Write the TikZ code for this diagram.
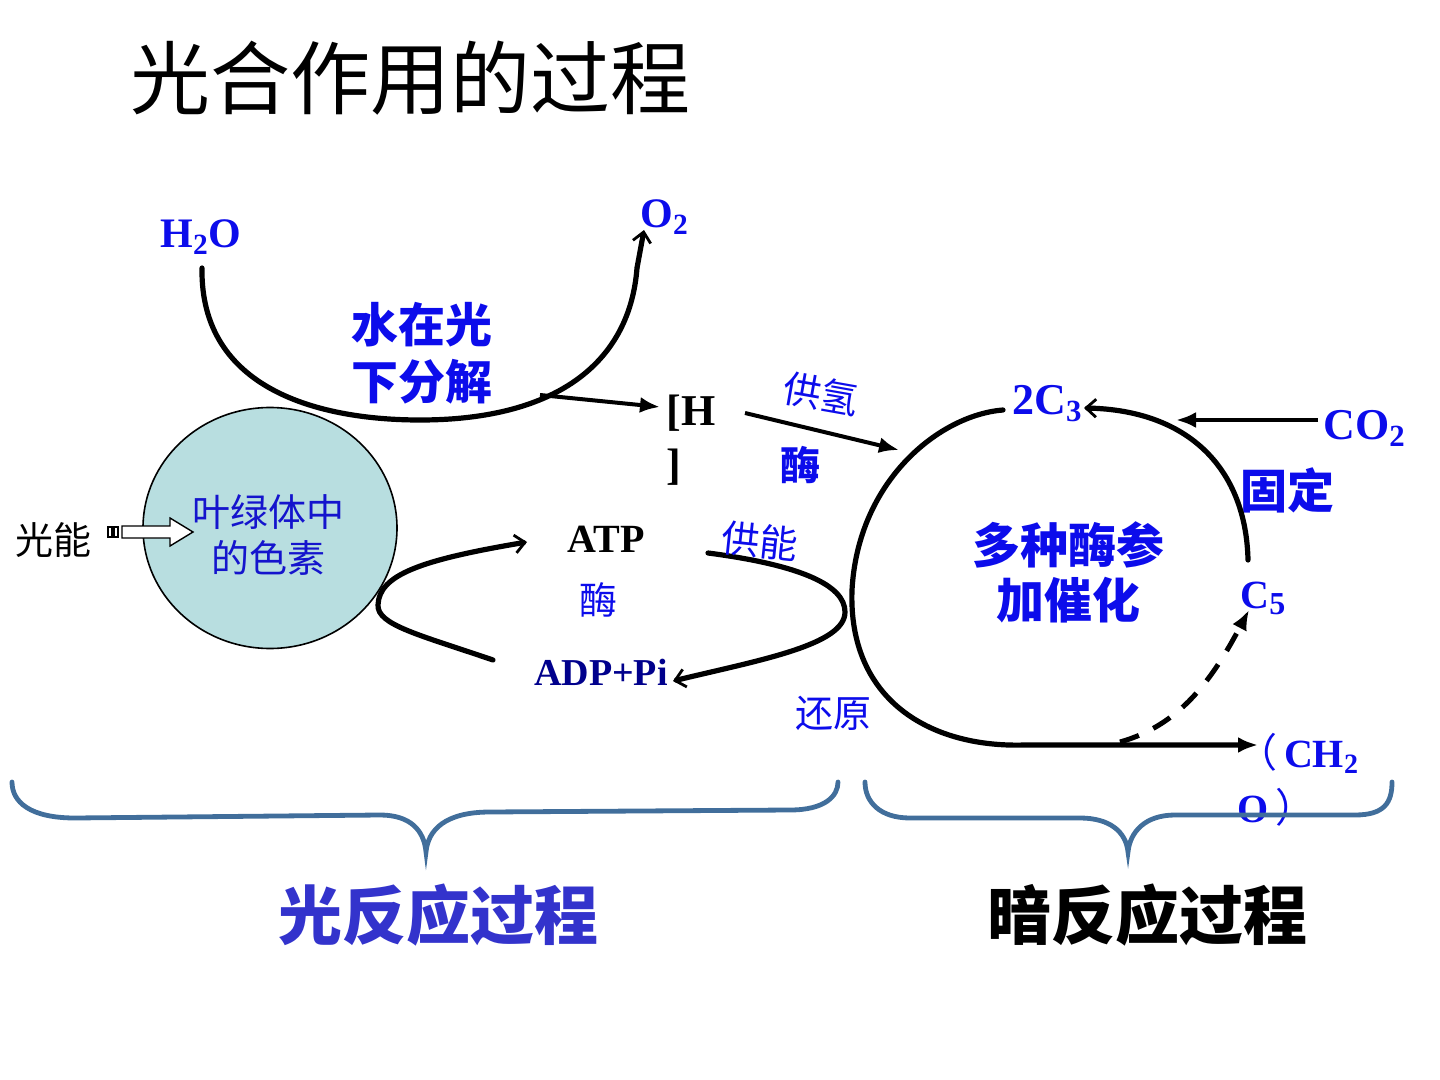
\documentclass[tikz,border=0pt]{standalone}
\usepackage{fontspec}
\setmainfont{Liberation Serif}
\newfontfamily\cjk{Noto Sans CJK SC}
\usetikzlibrary{arrows.meta,shapes.geometric}
\definecolor{tblue}{RGB}{12,12,235}
\definecolor{pigtext}{RGB}{20,20,205}
\definecolor{navyt}{RGB}{0,0,140}
\definecolor{lightblue}{RGB}{51,51,204}
\definecolor{bracec}{RGB}{65,110,155}
\definecolor{pigfill}{RGB}{184,222,224}
\begin{document}
\begin{tikzpicture}[x=0.5pt,y=-0.5pt,
  chem/.style={inner sep=0pt, font=\bfseries\fontsize{21}{24}\selectfont, text=tblue},
  zh/.style={inner sep=0pt, font=\cjk\fontsize{19}{23}\selectfont, text=tblue},
  zhb/.style={inner sep=0pt, font=\cjk\bfseries\fontsize{23.5}{28.5}\selectfont, text=tblue, align=center},
  curve/.style={line width=2.6pt, line cap=round},
  fillarrow/.style={line width=2pt, -{Latex[length=10pt,width=8pt]}},
  openarrow/.style={-{Straight Barb[length=5pt,width=9pt,line width=1.4pt]}},
  bracestyle/.style={draw=bracec, line width=2.4pt, line cap=round}
]
\useasboundingbox (0,0) rectangle (1440,1080);

% title
\node[anchor=west, inner sep=0pt, font=\cjk\fontsize{40}{44}\selectfont] (title) at (130,78) {光合作用的过程};

% light reaction: water splitting
\node[chem, anchor=base west] (h2o) at (160,248) {H\textsubscript{2}O};
\node[chem, anchor=base west] (o2) at (640,228) {O\textsubscript{2}};
\node[zhb] (split) at (422,353) {水在光\\下分解};
\node[anchor=north west, inner sep=0pt, font=\bfseries\fontsize{22}{27}\selectfont, align=left] (H) at (666,395) {[H\\]};

\coordinate (w0) at (202,268);
\coordinate (w1) at (637,268);
\coordinate (w2) at (644,230);
\draw[curve] (w0) .. controls (200,390) and (320,420) .. (420,420) .. controls (560,420) and (630,360) .. (w1);
\draw[openarrow, line width=2.6pt] (w1) -- (w2);

\coordinate (hs) at (540,395);
\coordinate (he) at (660,407);
\draw[fillarrow] (hs) -- (he);

% pigments
\node[ellipse, draw=black, line width=0.8pt, fill=pigfill, minimum width=127pt, minimum height=120.5pt, inner sep=0pt] (pig) at (270,528) {};
\node[zh, text=pigtext, align=center, font=\cjk\fontsize{19}{23}\selectfont] (pigt) at (268,535) {叶绿体中\\的色素};
\node[inner sep=0pt, font=\cjk\fontsize{19}{23}\selectfont] (light) at (54,540) {光能};
\draw[line width=0.7pt, fill=white] (108,527) rectangle (112,537);
\draw[line width=0.7pt, fill=white] (114,527) rectangle (118,537);
\draw[line width=0.7pt, fill=white] (122,526) -- (170,526) -- (170,518) -- (193,532) -- (170,546) -- (170,538) -- (122,538) -- cycle;

% ATP cycle
\node[inner sep=0pt, anchor=base, font=\bfseries\fontsize{20}{24}\selectfont] (atp) at (606,552) {ATP};
\node[zh] (enz1) at (598,600) {酶};
\node[inner sep=0pt, anchor=base, text=navyt, font=\bfseries\fontsize{19}{24}\selectfont] (adp) at (601,685) {ADP+Pi};
\coordinate (l0) at (493,660);
\coordinate (l1) at (527,542);
\draw[curve, openarrow] (l0) .. controls (420,635) and (377,625) .. (378,605) .. controls (379,575) and (420,560) .. (l1);
\coordinate (r0) at (708,553);
\coordinate (r1) at (673,681);
\draw[curve, openarrow] (r0) .. controls (800,565) and (845,585) .. (845,612) .. controls (845,645) and (760,660) .. (r1);
\node[zh, rotate=-6] (gn) at (760,541) {供能};

% H supply
\coordinate (g0) at (745,413);
\coordinate (g1) at (899,450);
\draw[fillarrow] (g0) -- (g1);
\node[zh, rotate=-10] (gq) at (821,394) {供氢};
\node[zh, font=\cjk\bfseries\fontsize{20}{24}\selectfont] (enz2) at (800,465) {酶};
\node[zh] (red) at (833,713) {还原};

% dark reaction cycle
\node[chem, anchor=base west, font=\bfseries\fontsize{22}{26}\selectfont] (c3) at (1012,415) {2C\textsubscript{3}};
\node[chem, anchor=base west, font=\bfseries\fontsize{22}{26}\selectfont] (co2) at (1323,440) {CO\textsubscript{2}};
\node[chem, anchor=base west, font=\bfseries\fontsize{20}{24}\selectfont] (c5) at (1240,608) {C\raisebox{-3pt}{\fontsize{16}{18}\selectfont 5}};
\node[chem, anchor=north west, align=left, font=\bfseries\fontsize{20}{27.5}\selectfont] (ch2o) at (1237,733) {{\cjk\mdseries （}\,CH\textsubscript{2}\\O\,{\cjk\mdseries ）}};
\node[zhb] (fix) at (1287,490) {固定};
\node[zhb, font=\cjk\bfseries\fontsize{24}{27.5}\selectfont] (cat) at (1068,572) {多种酶参\\加催化};

\coordinate (k0) at (1003,410);
\coordinate (k1) at (1258,745);
\draw[curve, -{Latex[length=10pt,width=8pt]}] (k0) .. controls (940,415) and (858,480) .. (852,590) .. controls (848,700) and (930,748) .. (1025,745) -- (k1);
\coordinate (m0) at (1248,560);
\coordinate (m1) at (1084,408);
\draw[curve, openarrow] (m0) .. controls (1246,470) and (1190,410) .. (m1);
\coordinate (n0) at (1318,420);
\coordinate (n1) at (1176,420);
\draw[fillarrow] (n0) -- (n1);
\coordinate (d0) at (1120,742);
\coordinate (d1) at (1249,610);
\draw[line width=2.5pt, dash pattern=on 10pt off 8pt, -{Latex[length=10pt,width=8pt]}] (d0) .. controls (1180,725) and (1212,680) .. (d1);

% braces
\draw[bracestyle] (12,782) .. controls (12,802) and (30,818) .. (75,818) -- (380,815) .. controls (410,815) and (424,830) .. (426,852) .. controls (428,830) and (445,812) .. (490,812) -- (790,810) .. controls (825,810) and (838,796) .. (838,782);
\draw[bracestyle] (865,782) .. controls (865,802) and (880,818) .. (910,818) -- (1080,818) .. controls (1110,818) and (1126,832) .. (1128,852) .. controls (1130,832) and (1145,815) .. (1175,815) -- (1355,815) .. controls (1385,815) and (1392,802) .. (1392,782);

\node[inner sep=0pt, text=lightblue, font=\cjk\bfseries\fontsize{32}{36}\selectfont] (lr) at (438,915) {光反应过程};
\node[inner sep=0pt, font=\cjk\bfseries\fontsize{32}{36}\selectfont] (dr) at (1147,915) {暗反应过程};
\end{tikzpicture}
\end{document}
